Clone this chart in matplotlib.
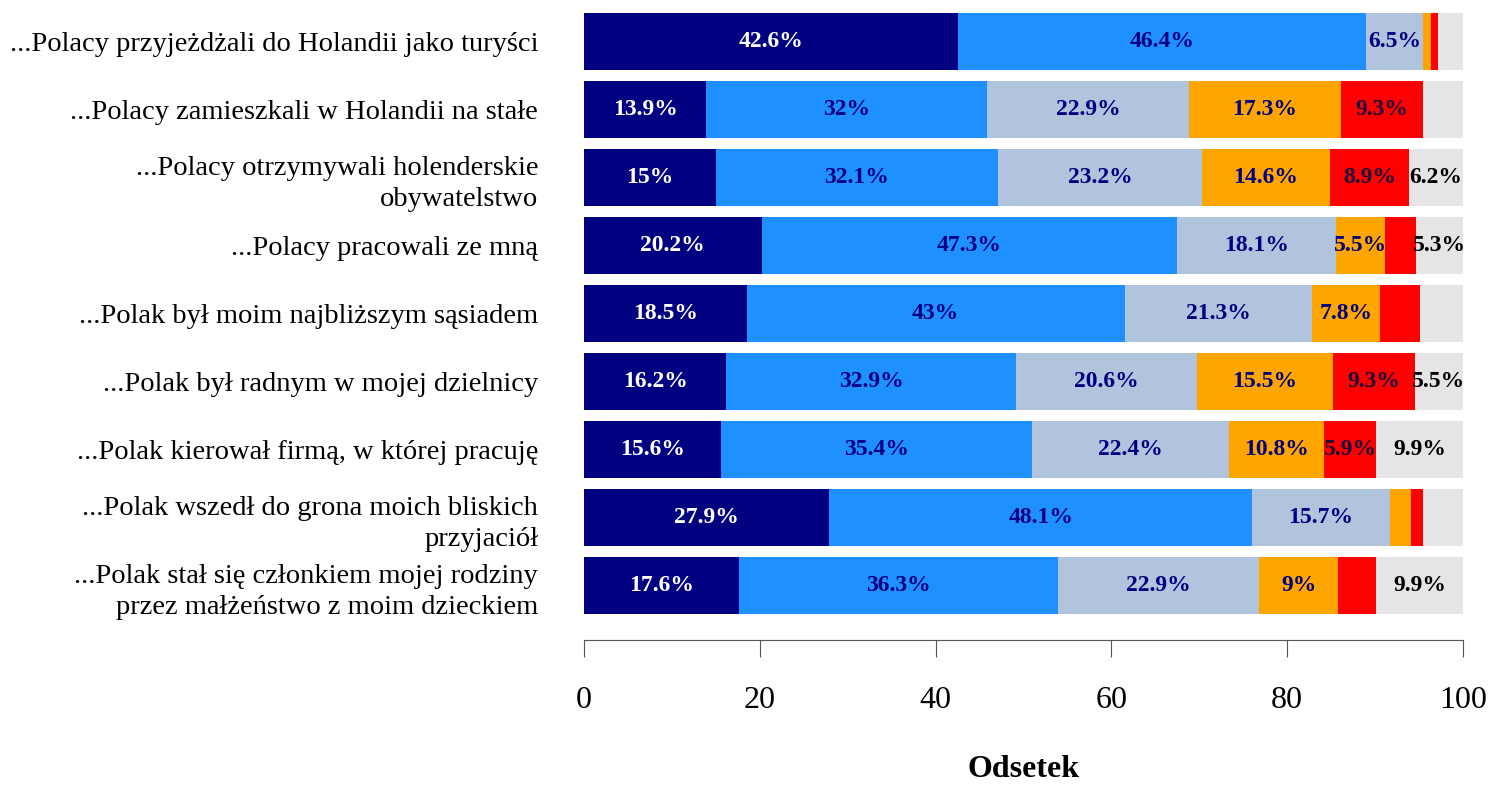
import matplotlib
matplotlib.use("Agg")
import matplotlib.pyplot as plt
import numpy as np

categories = [
    "...Polacy przyjeżdżali do Holandii jako turyści",
    "...Polacy zamieszkali w Holandii na stałe",
    "...Polacy otrzymywali holenderskie\nobywatelstwo",
    "...Polacy pracowali ze mną",
    "...Polak był moim najbliższym sąsiadem",
    "...Polak był radnym w mojej dzielnicy",
    "...Polak kierował firmą, w której pracuję",
    "...Polak wszedł do grona moich bliskich\nprzyjaciół",
    "...Polak stał się członkiem mojej rodziny\nprzez małżeństwo z moim dzieckiem",
]

s1 = [42.6, 13.9, 15.0, 20.2, 18.5, 16.2, 15.6, 27.9, 17.6]
s2 = [46.4, 32.0, 32.1, 47.3, 43.0, 32.9, 35.4, 48.1, 36.3]
s3 = [6.5, 22.9, 23.2, 18.1, 21.3, 20.6, 22.4, 15.7, 22.9]
s4 = [0.9, 17.3, 14.6, 5.5, 7.8, 15.5, 10.8, 2.4, 9.0]
s5 = [0.7, 9.3, 8.9, 3.6, 4.5, 9.3, 5.9, 1.3, 4.3]
s6 = [2.9, 4.6, 6.2, 5.3, 4.9, 5.5, 9.9, 4.6, 9.9]

series = [s1, s2, s3, s4, s5, s6]
colors = ["#000080", "#1E90FF", "#B0C4DE", "#FFA500", "#FF0000", "#E5E5E5"]
text_colors = ["white", "#000080", "#000080", "#000080", "#1a0a3a", "black"]

plt.rcParams['font.family'] = ['Liberation Serif', 'DejaVu Serif']

fig = plt.figure(figsize=(14.9, 7.87), dpi=100)
ax = fig.add_axes([584/1490, (787-640)/787, (1463-584)/1490, 640/787])

y = np.arange(len(categories))
left = np.zeros(len(categories))
for vals, c, tc in zip(series, colors, text_colors):
    vals = np.array(vals)
    ax.barh(y, vals, left=left, height=0.84, color=c, edgecolor='none')
    for yi, (l, v) in enumerate(zip(left, vals)):
        if v >= 5:
            ax.text(l + v / 2, yi, f"{v:g}%", ha='center', va='center',
                    color=tc, fontsize=17, fontweight='bold')
    left = left + vals

ax.set_xlim(0, 100)
ax.set_ylim(8 + 0.80, -0.61)
ax.set_yticks(y)
ax.set_yticklabels(categories, fontsize=20.5, linespacing=1.35)
ax.tick_params(axis='y', length=0, pad=33)
for sp in ['top', 'right', 'left']:
    ax.spines[sp].set_visible(False)
ax.spines['bottom'].set_color('#555555')
ax.set_xticks([0, 20, 40, 60, 80, 100])
ax.tick_params(axis='x', length=12, color='#555555', labelsize=23, pad=21)
ax.set_xlabel("Odsetek", fontsize=23, fontweight='bold', labelpad=29)

fig.savefig("out.png", dpi=100)
